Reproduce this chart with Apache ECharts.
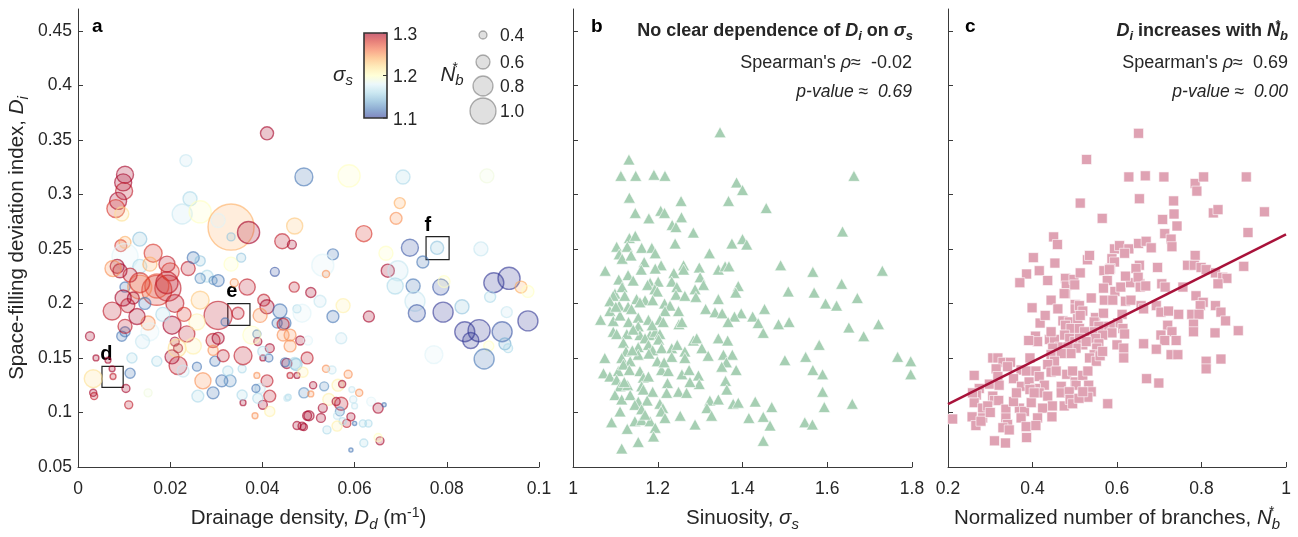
<!DOCTYPE html>
<html><head><meta charset="utf-8">
<script src="https://cdn.jsdelivr.net/npm/echarts@6/dist/echarts.min.js"></script>
<style>html,body{margin:0;padding:0;background:#fff}#c{width:1298px;height:537px}</style>
</head><body><div id="c"></div>
<script>
const FONT = "'Liberation Sans', Arial, Helvetica, sans-serif";

// ---------- DATA ----------
// Panel a: [drainage density Dd, Di, sinuosity sigma_s, normalized branches Nb*]
const panelA = [
[0.041,0.356,1.30,0.57],[0.0234,0.331,1.17,0.53],[0.049,0.316,1.12,0.73],[0.0102,0.318,1.30,0.70],
[0.0098,0.311,1.30,0.70],[0.0100,0.303,1.29,0.70],[0.0087,0.294,1.30,0.70],[0.0082,0.287,1.28,0.73],
[0.0095,0.282,1.22,0.60],[0.0243,0.296,1.16,0.60],[0.0226,0.282,1.17,0.80],[0.0265,0.284,1.20,0.87],
[0.0332,0.270,1.24,1.67],[0.0304,0.276,1.18,0.60],[0.0332,0.261,1.15,0.40],[0.037,0.265,1.30,0.87],
[0.0443,0.257,1.29,0.63],[0.0464,0.254,1.30,0.43],[0.047,0.271,1.23,0.67],[0.0134,0.259,1.15,0.60],
[0.0093,0.253,1.28,0.53],[0.0102,0.256,1.24,0.53],[0.0102,0.243,1.18,1.00],[0.0085,0.234,1.30,0.60],
[0.0091,0.230,1.30,0.60],[0.0076,0.232,1.25,0.67],[0.0134,0.234,1.16,0.60],[0.0163,0.246,1.28,0.73],
[0.0193,0.236,1.29,0.67],[0.0200,0.229,1.28,0.73],[0.0156,0.236,1.24,0.60],[0.0239,0.232,1.29,0.60],
[0.025,0.242,1.12,0.53],[0.0265,0.239,1.15,0.47],[0.028,0.225,1.16,0.53],[0.0265,0.223,1.13,0.47],
[0.0304,0.221,1.12,0.53],[0.0293,0.221,1.13,0.40],[0.0332,0.236,1.20,0.60],[0.0354,0.242,1.15,0.43],
[0.0339,0.219,1.25,0.40],[0.0427,0.229,1.11,0.43],[0.0367,0.215,1.29,0.67],[0.0469,0.215,1.29,0.47],
[0.0102,0.215,1.12,0.47],[0.0195,0.214,1.29,1.00],[0.0171,0.212,1.28,1.13],[0.0134,0.215,1.25,0.93],
[0.0171,0.216,1.27,0.93],[0.0134,0.219,1.28,0.80],[0.0193,0.219,1.29,0.87],
[0.0074,0.193,1.29,0.73],[0.0098,0.205,1.30,0.67],[0.0108,0.198,1.29,0.60],[0.0095,0.170,1.12,0.47],
[0.0102,0.174,1.12,0.47],[0.0102,0.179,1.29,0.60],[0.0026,0.170,1.30,0.43],[0.0039,0.150,1.30,0.33],
[0.0065,0.148,1.30,0.33],[0.0074,0.140,1.30,0.33],[0.0076,0.133,1.29,0.33],[0.0033,0.131,1.22,0.73],
[0.0033,0.118,1.30,0.37],[0.0035,0.115,1.29,0.37],[0.0113,0.136,1.12,0.47],[0.0104,0.122,1.30,0.40],
[0.011,0.107,1.29,0.40],[0.0117,0.150,1.16,0.47],[0.0152,0.118,1.19,0.40],[0.0171,0.147,1.16,0.47],
[0.021,0.200,1.29,0.73],[0.0204,0.180,1.30,0.73],[0.0236,0.172,1.29,0.67],[0.0152,0.182,1.25,0.60],
[0.021,0.165,1.30,0.43],[0.0217,0.159,1.30,0.43],[0.0204,0.151,1.30,0.60],[0.0215,0.159,1.22,0.73],
[0.0217,0.143,1.29,0.73],[0.025,0.161,1.21,0.67],[0.0228,0.138,1.17,0.53],[0.0258,0.142,1.12,0.43],
[0.0271,0.129,1.25,0.67],[0.026,0.115,1.16,0.53],[0.0293,0.118,1.12,0.53],[0.0312,0.129,1.12,0.53],
[0.033,0.129,1.13,0.53],[0.0297,0.147,1.12,0.47],[0.0325,0.138,1.16,0.47],[0.0356,0.140,1.16,0.40],
[0.0293,0.166,1.29,0.60],[0.0304,0.168,1.30,0.53],[0.0304,0.189,1.29,1.07],[0.0293,0.157,1.25,0.47],
[0.0315,0.152,1.29,0.53],[0.0358,0.152,1.29,0.73],[0.0347,0.191,1.29,0.53],[0.0319,0.183,1.12,0.40],
[0.0403,0.203,1.29,0.53],[0.041,0.197,1.30,0.60],[0.0395,0.189,1.25,0.60],[0.0438,0.193,1.12,0.60],
[0.0432,0.182,1.12,0.47],[0.0449,0.182,1.12,0.53],[0.0475,0.195,1.16,0.40],[0.046,0.171,1.25,0.53],
[0.0482,0.166,1.30,0.43],[0.0388,0.172,1.12,0.40],[0.039,0.165,1.30,0.40],[0.0377,0.171,1.20,0.73],
[0.0416,0.159,1.30,0.43],[0.0401,0.150,1.30,0.33],[0.0414,0.150,1.12,0.40],[0.0401,0.156,1.16,0.47],
[0.0453,0.145,1.30,0.47],[0.046,0.134,1.29,0.33],[0.0475,0.134,1.30,0.33],[0.047,0.145,1.16,0.53],
[0.0388,0.134,1.25,0.33],[0.041,0.129,1.29,0.53],[0.0416,0.115,1.29,0.53],[0.0401,0.107,1.30,0.43],
[0.039,0.113,1.16,0.47],[0.0395,0.122,1.17,0.47],[0.0386,0.122,1.12,0.40],[0.0416,0.101,1.21,0.47],
[0.0384,0.097,1.25,0.33],[0.0358,0.109,1.30,0.33],[0.0356,0.116,1.16,0.47],[0.0456,0.114,1.16,0.33],
[0.0497,0.097,1.30,0.43],[0.0475,0.088,1.30,0.40],[0.0486,0.0875,1.30,0.40],[0.049,0.0866,1.30,0.37],
[0.0156,0.174,1.18,0.73],[0.0258,0.183,1.21,0.67],
[0.0588,0.317,1.20,0.87],[0.0705,0.316,1.16,0.60],[0.0887,0.317,1.19,0.60],[0.0698,0.292,1.24,0.50],
[0.069,0.278,1.25,0.53],[0.062,0.264,1.28,0.67],[0.072,0.251,1.11,0.70],[0.0779,0.251,1.15,0.57],
[0.0748,0.238,1.12,0.53],[0.0874,0.250,1.17,0.60],[0.0668,0.246,1.20,0.60],[0.0553,0.245,1.12,0.50],
[0.0531,0.235,1.18,0.87],[0.0538,0.227,1.25,0.37],[0.0672,0.230,1.30,0.57],[0.0694,0.230,1.17,0.80],
[0.0688,0.216,1.16,0.67],[0.0727,0.216,1.12,0.60],[0.0787,0.215,1.11,0.67],[0.0794,0.220,1.20,0.53],
[0.0902,0.219,1.10,0.80],[0.0935,0.223,1.10,0.87],[0.0961,0.215,1.24,0.53],[0.0505,0.210,1.30,0.47],
[0.0976,0.211,1.20,0.53],
[0.0731,0.202,1.17,0.80],[0.0735,0.191,1.11,0.70],[0.0792,0.192,1.10,0.80],[0.0833,0.197,1.15,0.60],
[0.0894,0.206,1.16,0.50],[0.093,0.192,1.17,0.50],[0.0976,0.184,1.10,0.80],[0.0839,0.174,1.10,0.80],
[0.087,0.175,1.10,0.87],[0.0852,0.166,1.10,0.67],[0.092,0.174,1.11,0.80],[0.0926,0.163,1.14,0.53],
[0.0891,0.161,1.20,0.47],[0.0933,0.159,1.16,0.43],[0.0881,0.149,1.12,0.80],[0.0772,0.153,1.18,0.73],
[0.0631,0.188,1.30,0.50],[0.0553,0.188,1.12,0.53],[0.0486,0.191,1.18,0.73],[0.0575,0.198,1.21,0.60],
[0.0525,0.202,1.17,0.53],[0.0445,0.181,1.29,0.53],[0.0445,0.171,1.25,0.53],[0.046,0.161,1.25,0.53],
[0.0499,0.166,1.18,0.43],[0.0571,0.168,1.17,0.50],[0.0497,0.150,1.29,0.53],[0.0449,0.146,1.12,0.43],
[0.0473,0.144,1.15,0.53],[0.0488,0.137,1.21,0.47],[0.0538,0.140,1.25,0.37],[0.0551,0.139,1.17,0.40],
[0.0586,0.135,1.25,0.40],[0.051,0.125,1.30,0.37],[0.0534,0.124,1.13,0.43],[0.049,0.118,1.13,0.47],
[0.0505,0.117,1.25,0.33],[0.0564,0.125,1.21,0.53],[0.0573,0.126,1.30,0.37],[0.0594,0.121,1.17,0.33],
[0.061,0.118,1.25,0.37],[0.0453,0.113,1.17,0.33],[0.0544,0.112,1.21,0.53],[0.056,0.110,1.30,0.40],
[0.0571,0.108,1.29,0.57],[0.0597,0.112,1.17,0.37],[0.060,0.106,1.17,0.33],[0.0636,0.110,1.18,0.43],
[0.0651,0.104,1.30,0.47],[0.0664,0.107,1.12,0.27],[0.0531,0.104,1.30,0.43],[0.0568,0.101,1.13,0.43],
[0.0562,0.097,1.17,0.37],[0.0592,0.096,1.30,0.40],[0.0583,0.090,1.29,0.40],[0.0574,0.092,1.16,0.37],
[0.060,0.090,1.12,0.27],[0.0618,0.090,1.16,0.37],[0.063,0.090,1.16,0.37],[0.0501,0.097,1.30,0.47],
[0.0527,0.095,1.30,0.43],[0.054,0.084,1.16,0.40],[0.0562,0.0875,1.21,0.47],[0.062,0.072,1.16,0.40],
[0.0655,0.074,1.30,0.40],[0.0592,0.0655,1.12,0.27],[0.0651,0.077,1.20,0.40],
[0.0113,0.226,1.29,0.60],[0.0120,0.205,1.30,0.53],[0.0145,0.200,1.12,0.53],[0.0128,0.188,1.30,0.67],
[0.0184,0.190,1.16,0.60],[0.0140,0.165,1.17,0.60],[0.0265,0.203,1.23,0.73],[0.0230,0.190,1.28,0.60]
];

// Panel b: [sinuosity sigma_s, Di]
const panelB = [
[1.347,0.357],[1.132,0.332],[1.113,0.317],[1.148,0.317],[1.191,0.318],[1.217,0.317],[1.663,0.317],[1.386,0.311],
[1.400,0.304],[1.133,0.297],[1.255,0.294],[1.367,0.294],[1.456,0.2875],[1.147,0.283],[1.207,0.285],[1.216,0.283],
[1.179,0.278],[1.256,0.279],[1.234,0.272],[1.243,0.270],[1.284,0.265],[1.636,0.266],[1.133,0.260],[1.147,0.262],
[1.241,0.255],[1.375,0.255],[1.400,0.259],[1.410,0.254],[1.103,0.252],[1.128,0.252],[1.162,0.251],[1.186,0.251],
[1.109,0.245],[1.116,0.241],[1.137,0.244],[1.194,0.246],[1.322,0.246],[1.168,0.238],[1.161,0.231],[1.076,0.230],
[1.208,0.235],[1.194,0.232],[1.261,0.235],[1.261,0.231],[1.298,0.233],[1.300,0.224],[1.343,0.231],[1.359,0.234],
[1.368,0.234],[1.490,0.235],[1.566,0.229],[1.730,0.230],[1.130,0.226],[1.238,0.228],[1.108,0.222],[1.142,0.221],
[1.182,0.219],[1.201,0.220],[1.233,0.220],[1.308,0.217],[1.390,0.216],[1.384,0.210],[1.634,0.218],[1.508,0.211],
[1.569,0.210],[1.099,0.209],[1.095,0.207],[1.087,0.202],[1.116,0.215],[1.176,0.217],[1.193,0.213],[1.199,0.211],
[1.245,0.215],[1.243,0.208],[1.264,0.207],[1.288,0.213],[1.290,0.206],[1.671,0.205],[1.150,0.204],[1.170,0.203],
[1.188,0.203],[1.216,0.200],[1.229,0.198],[1.343,0.204],[1.087,0.193],[1.109,0.198],[1.130,0.197],[1.158,0.201],
[1.138,0.195],[1.596,0.200],[1.622,0.198],[1.217,0.193],[1.249,0.193],[1.313,0.195],[1.335,0.192],[1.352,0.191],
[1.452,0.195],[1.397,0.191],[1.381,0.188],[1.424,0.188],[1.437,0.182],[1.065,0.185],[1.095,0.184],[1.111,0.189],
[1.131,0.183],[1.154,0.187],[1.178,0.185],[1.205,0.185],[1.213,0.183],[1.250,0.181],[1.257,0.183],[1.366,0.183],
[1.485,0.181],[1.510,0.183],[1.651,0.178],[1.721,0.181],[1.095,0.174],[1.103,0.172],[1.127,0.172],[1.154,0.179],
[1.158,0.171],[1.182,0.171],[1.194,0.174],[1.205,0.172],[1.449,0.173],[1.686,0.170],[1.119,0.164],[1.125,0.156],
[1.154,0.160],[1.170,0.168],[1.178,0.162],[1.188,0.157],[1.202,0.167],[1.209,0.159],[1.233,0.159],[1.246,0.162],
[1.284,0.166],[1.292,0.168],[1.304,0.159],[1.343,0.168],[1.365,0.166],[1.581,0.162],[1.264,0.156],[1.264,0.150],
[1.075,0.150],[1.115,0.150],[1.135,0.147],[1.154,0.153],[1.179,0.154],[1.199,0.147],[1.209,0.139],[1.233,0.151],
[1.319,0.152],[1.355,0.153],[1.376,0.153],[1.362,0.146],[1.500,0.148],[1.549,0.151],[1.766,0.151],[1.797,0.147],
[1.797,0.135],[1.072,0.136],[1.087,0.133],[1.107,0.138],[1.119,0.144],[1.133,0.139],[1.158,0.138],[1.166,0.132],
[1.223,0.127],[1.225,0.138],[1.257,0.135],[1.274,0.139],[1.296,0.134],[1.351,0.142],[1.385,0.139],[1.566,0.139],
[1.589,0.135],[1.298,0.126],[1.276,0.128],[1.360,0.129],[1.363,0.121],[1.103,0.130],[1.111,0.124],[1.129,0.125],
[1.162,0.124],[1.166,0.121],[1.188,0.119],[1.221,0.118],[1.249,0.119],[1.268,0.118],[1.099,0.116],[1.115,0.112],
[1.135,0.116],[1.154,0.110],[1.175,0.111],[1.205,0.108],[1.323,0.111],[1.343,0.112],[1.378,0.108],[1.390,0.109],
[1.430,0.110],[1.589,0.119],[1.593,0.105],[1.659,0.108],[1.469,0.105],[1.111,0.101],[1.146,0.107],[1.162,0.103],
[1.212,0.104],[1.208,0.101],[1.316,0.104],[1.327,0.097],[1.091,0.091],[1.146,0.092],[1.162,0.093],[1.182,0.092],
[1.170,0.098],[1.217,0.095],[1.253,0.097],[1.415,0.095],[1.449,0.096],[1.547,0.091],[1.565,0.089],[1.465,0.088],
[1.288,0.089],[1.194,0.086],[1.190,0.078],[1.128,0.085],[1.154,0.073],[1.449,0.074],[1.115,0.067],
[1.122,0.207],[1.142,0.176],[1.187,0.180],[1.121,0.128],[1.178,0.133],[1.140,0.157],[1.101,0.197],[1.215,0.146]
];

// Panel c: [normalized number of branches Nb*, Di]
const panelC = [
[0.651,0.356],[0.528,0.332],[0.628,0.316],[0.667,0.317],[0.711,0.316],[0.906,0.316],[0.785,0.310],[0.805,0.316],
[0.789,0.303],[0.653,0.296],[0.513,0.292],[0.734,0.294],[0.735,0.282],[0.742,0.271],[0.708,0.277],[0.713,0.264],
[0.728,0.259],[0.730,0.252],[0.565,0.278],[0.828,0.283],[0.839,0.286],[0.949,0.284],[0.910,0.265],[0.450,0.261],
[0.459,0.254],[0.594,0.250],[0.606,0.253],[0.628,0.250],[0.618,0.246],[0.651,0.255],[0.669,0.257],[0.681,0.251],
[0.530,0.240],[0.535,0.244],[0.588,0.241],[0.594,0.238],[0.584,0.232],[0.402,0.242],[0.453,0.237],[0.653,0.235],
[0.645,0.232],[0.696,0.233],[0.785,0.244],[0.767,0.235],[0.783,0.235],[0.799,0.233],[0.811,0.231],[0.833,0.228],
[0.850,0.224],[0.860,0.223],[0.900,0.234],[0.386,0.227],[0.416,0.230],[0.370,0.219],[0.436,0.221],[0.478,0.223],
[0.480,0.216],[0.498,0.222],[0.478,0.209],[0.500,0.217],[0.513,0.228],[0.569,0.230],[0.577,0.221],[0.582,0.231],
[0.568,0.214],[0.570,0.203],[0.595,0.211],[0.590,0.203],[0.609,0.215],[0.632,0.219],[0.654,0.218],[0.650,0.224],
[0.655,0.215],[0.668,0.216],[0.706,0.218],[0.714,0.215],[0.839,0.218],[0.787,0.207],[0.804,0.201],[0.797,0.198],
[0.833,0.198],[0.846,0.192],[0.857,0.184],[0.887,0.175],[0.832,0.173],[0.444,0.203],[0.539,0.205],[0.475,0.209],
[0.501,0.199],[0.501,0.195],[0.511,0.198],[0.519,0.193],[0.399,0.196],[0.620,0.202],[0.633,0.203],[0.657,0.198],
[0.663,0.195],[0.693,0.198],[0.704,0.192],[0.722,0.193],[0.746,0.190],[0.777,0.190],[0.794,0.190],[0.781,0.181],
[0.781,0.174],[0.612,0.190],[0.549,0.187],[0.568,0.191],[0.546,0.183],[0.472,0.184],[0.487,0.183],[0.507,0.186],
[0.513,0.189],[0.418,0.182],[0.602,0.182],[0.584,0.179],[0.569,0.179],[0.557,0.179],[0.614,0.177],[0.618,0.172],
[0.588,0.173],[0.545,0.174],[0.566,0.171],[0.549,0.168],[0.557,0.163],[0.720,0.180],[0.730,0.174],[0.740,0.166],
[0.704,0.171],[0.713,0.166],[0.478,0.180],[0.491,0.177],[0.511,0.177],[0.523,0.174],[0.407,0.170],[0.412,0.165],
[0.391,0.166],[0.440,0.167],[0.452,0.167],[0.444,0.174],[0.476,0.171],[0.488,0.168],[0.500,0.165],[0.511,0.168],
[0.519,0.162],[0.527,0.165],[0.503,0.159],[0.464,0.160],[0.484,0.160],[0.491,0.154],[0.552,0.159],[0.546,0.153],
[0.535,0.150],[0.551,0.147],[0.560,0.152],[0.566,0.156],[0.448,0.159],[0.444,0.153],[0.468,0.154],[0.452,0.147],
[0.600,0.162],[0.616,0.159],[0.616,0.150],[0.663,0.163],[0.693,0.158],[0.728,0.153],[0.744,0.153],[0.811,0.147],
[0.811,0.140],[0.846,0.149],[0.670,0.131],[0.699,0.127],[0.578,0.108],[0.306,0.150],[0.318,0.150],[0.330,0.146],
[0.348,0.146],[0.314,0.140],[0.341,0.142],[0.373,0.139],[0.394,0.150],[0.386,0.138],[0.408,0.138],[0.262,0.134],
[0.274,0.122],[0.267,0.116],[0.298,0.126],[0.318,0.133],[0.321,0.125],[0.355,0.131],[0.374,0.124],[0.392,0.128],
[0.416,0.133],[0.436,0.144],[0.444,0.137],[0.456,0.138],[0.428,0.125],[0.407,0.122],[0.416,0.118],[0.436,0.115],
[0.447,0.106],[0.424,0.104],[0.468,0.124],[0.468,0.118],[0.475,0.106],[0.481,0.135],[0.495,0.138],[0.501,0.128],
[0.503,0.125],[0.519,0.134],[0.531,0.138],[0.533,0.125],[0.539,0.119],[0.531,0.114],[0.487,0.119],[0.489,0.112],
[0.495,0.108],[0.510,0.113],[0.519,0.119],[0.306,0.115],[0.310,0.111],[0.320,0.111],[0.262,0.109],[0.282,0.104],
[0.294,0.106],[0.337,0.103],[0.369,0.104],[0.381,0.101],[0.397,0.109],[0.257,0.096],[0.282,0.095],[0.266,0.088],
[0.278,0.092],[0.211,0.094],[0.337,0.095],[0.341,0.089],[0.373,0.095],[0.412,0.095],[0.446,0.096],[0.330,0.086],
[0.345,0.084],[0.385,0.087],[0.408,0.088],[0.310,0.074],[0.336,0.072],[0.386,0.077],[0.394,0.121],[0.404,0.118],
[0.258,0.118],[0.355,0.110],[0.300,0.100],[0.362,0.118],[0.430,0.189],[0.620,0.225],[0.756,0.215],[0.460,0.195]
];

// Linear fit of Di vs Nb* (panel c), end points
const fitNb = [0.2, 1.0];
const fitDi = [0.1076, 0.2633];

// Ticks
const yTicks = [0.05,0.1,0.15,0.2,0.25,0.3,0.35,0.4,0.45];
const colorbarTicks = [1.3, 1.2, 1.1];
const sizeLegendValues = [0.4, 0.6, 0.8, 1.0];

// Highlighted sub-areas in panel a: [label, Dd0, Dd1, Di0, Di1]
const boxes = [
  ['d', 0.0052, 0.0098, 0.1231, 0.1423],
  ['e', 0.0325, 0.0373, 0.1798, 0.1999],
  ['f', 0.0755, 0.0805, 0.2401, 0.2612]
];

// ---------- STYLE HELPERS ----------
const RDYLBU_R = ['#313695','#4575b4','#74add1','#abd9e9','#e0f3f8','#ffffbf','#fee090','#fdae61','#f46d43','#d73027','#a50026'];
function hex2rgb(h){return [parseInt(h.slice(1,3),16),parseInt(h.slice(3,5),16),parseInt(h.slice(5,7),16)];}
function cmap(v){
  let t=(v-1.1)/0.2; t=Math.max(0,Math.min(1,t));
  const p=t*10; const i=Math.min(9,Math.floor(p)); const f=p-i;
  const a=hex2rgb(RDYLBU_R[i]), b=hex2rgb(RDYLBU_R[i+1]);
  return a.map((c,k)=>Math.round(c+(b[k]-c)*f));
}
function rgba(c,a){return 'rgba('+c[0]+','+c[1]+','+c[2]+','+a+')';}
function bubbleDiam(nb){return 30*nb-4;}

const AX = '#3a3a3a', TXT = '#262626';
const NF = 20.5;
const richBase = {
  n:{fontFamily:FONT,fontSize:NF,color:TXT},
  i:{fontFamily:FONT,fontSize:NF,color:TXT,fontStyle:'italic'},
  sub:{fontFamily:FONT,fontSize:15,color:TXT,fontStyle:'italic',padding:[12,0,0,0]},
  sup:{fontFamily:FONT,fontSize:14,color:TXT,padding:[0,0,11,0]},
  supz:{fontFamily:FONT,fontSize:14,color:TXT,padding:[0,0,13,0],width:0}
};

function xAxisCfg(idx,min,max,interval,name,gap){
  return {
    gridIndex:idx,type:'value',min,max,interval,
    name,nameLocation:'middle',nameGap:gap,
    nameTextStyle:{fontFamily:FONT,fontSize:NF,color:TXT,rich:richBase},
    axisLine:{show:true,onZero:false,lineStyle:{color:AX,width:1}},
    axisTick:{show:true,inside:true,length:5,lineStyle:{color:AX,width:1}},
    axisLabel:{color:TXT,fontFamily:FONT,fontSize:17.5,margin:13,formatter:v=>String(+v.toFixed(3))},
    splitLine:{show:false}
  };
}
function yAxisCfg(idx,showLabel){
  const c = {
    gridIndex:idx,type:'value',min:0.05,max:0.47,
    axisLine:{show:true,onZero:false,lineStyle:{color:AX,width:1}},
    axisTick:{show:true,inside:true,length:5,customValues:yTicks,lineStyle:{color:AX,width:1}},
    axisLabel:{show:showLabel,customValues:yTicks,color:TXT,fontFamily:FONT,fontSize:17.5,margin:6,formatter:v=>String(+v.toFixed(3))},
    splitLine:{show:false}
  };
  if(showLabel){
    c.name='{n|Space-filling deviation index, }{i|D}{sub|i}';
    c.nameLocation='middle'; c.nameGap=47; c.nameRotate=90;
    c.nameTextStyle={fontFamily:FONT,fontSize:NF,color:TXT,rich:richBase};
  }
  return c;
}

const bubbleData = panelA.map(p=>{
  const c=cmap(p[2]);
  return {value:p,itemStyle:{color:rgba(c,0.28),borderColor:rgba(c,0.75),borderWidth:1.4}};
});

const markAreaData = boxes.map(b=>[
  {name:b[0],coord:[b[1],b[4]]},
  {coord:[b[2],b[3]]}
]);

// ---------- GRAPHIC (legends & annotations) ----------
const graphic = [];
function txt(x,y,text,opt){
  graphic.push({type:'text',x,y,silent:true,z:100,style:Object.assign({
    text,fontFamily:FONT,fontSize:17,fill:TXT,align:'left',textAlign:'left',verticalAlign:'middle',textVerticalAlign:'middle'
  },opt||{})});
}
// panel letters
txt(92,27,'a',{fontWeight:'bold',fontSize:19,fill:'#000'});
txt(591,27,'b',{fontWeight:'bold',fontSize:19,fill:'#000'});
txt(965,27,'c',{fontWeight:'bold',fontSize:19,fill:'#000'});

const richTitle = {
  b:{fontFamily:FONT,fontSize:18,fontWeight:'bold',color:'#000'},
  bi:{fontFamily:FONT,fontSize:18,fontWeight:'bold',fontStyle:'italic',color:'#000'},
  bsub:{fontFamily:FONT,fontSize:13,fontWeight:'bold',fontStyle:'italic',color:'#000',padding:[11,0,0,0]},
  bsupz:{fontFamily:FONT,fontSize:13,fontWeight:'bold',fontStyle:'italic',color:'#000',padding:[0,0,11,0],width:0},
  r:{fontFamily:FONT,fontSize:18,color:TXT},
  ri:{fontFamily:FONT,fontSize:18,fontStyle:'italic',color:TXT},
  pi:{fontFamily:FONT,fontSize:17.5,fontStyle:'italic',color:TXT}
};
function rtxt(x,y,text){
  graphic.push({type:'text',x,y,silent:true,z:100,style:{
    text,rich:richTitle,fontFamily:FONT,fontSize:17,fill:TXT,align:'right',textAlign:'right',verticalAlign:'middle',textVerticalAlign:'middle'}});
}
rtxt(913,31,'{b|No clear dependence of }{bi|D}{bsub|i}{b| on }{bi|σ}{bsub|s}');
rtxt(912,63,"{r|Spearman's }{ri|ρ}{r|≈  -0.02}");
rtxt(912,92,'{pi|p-value ≈  0.69}');
rtxt(1288,31,'{bi|D}{bsub|i}{b| increases with }{bi|N}{bsupz|*}{bsub|b}');
rtxt(1288,63,"{r|Spearman's }{ri|ρ}{r|≈  0.69}");
rtxt(1288,92,'{pi|p-value ≈  0.00}');

// colorbar
const cbX=364, cbY=33, cbW=23, cbH=85;
const stops=[];
for(let k=0;k<=20;k++){const v=1.3-0.2*k/20; stops.push({offset:k/20,color:rgba(cmap(v),0.62)});}
graphic.push({type:'rect',shape:{x:cbX,y:cbY,width:cbW,height:cbH},silent:true,z:90,
  style:{fill:{type:'linear',x:0,y:0,x2:0,y2:1,colorStops:stops},stroke:'#333',lineWidth:1.6}});
colorbarTicks.forEach(v=>{
  const y=cbY+(1.3-v)/0.2*cbH;
  graphic.push({type:'line',shape:{x1:cbX+cbW-4,y1:y,x2:cbX+cbW,y2:y},silent:true,z:91,style:{stroke:'#333',lineWidth:1}});
  txt(cbX+cbW+6,y+2,v.toFixed(1),{fontSize:17.5});
});
graphic.push({type:'text',x:343,y:75,silent:true,z:100,style:{text:'{i|σ}{sub|s}',rich:richBase,fontFamily:FONT,fontSize:NF,fill:TXT,align:'center',textAlign:'center',verticalAlign:'middle',textVerticalAlign:'middle'}});

// size legend
const slCenters=[35,62,86,111];
sizeLegendValues.forEach((v,k)=>{
  const r=bubbleDiam(v)/2;
  graphic.push({type:'circle',shape:{cx:483,cy:slCenters[k],r},silent:true,z:90,
    style:{fill:'rgba(0,0,0,0.12)',stroke:'rgba(0,0,0,0.3)',lineWidth:1.3}});
  txt(500,slCenters[k]+1,v.toFixed(1),{fontSize:17.5});
});
graphic.push({type:'text',x:452,y:75,silent:true,z:100,style:{text:'{i|N}{supz|*}{sub|b}',rich:richBase,fontFamily:FONT,fontSize:NF,fill:TXT,align:'center',textAlign:'center',verticalAlign:'middle',textVerticalAlign:'middle'}});

// ---------- CHART ----------
const chart = echarts.init(document.getElementById('c'),null,{renderer:'canvas'});
chart.setOption({
  animation:false,
  backgroundColor:'#fff',
  grid:[
    {left:78,top:9,width:461,height:460},
    {left:573,top:9,width:339,height:460},
    {left:948,top:9,width:338,height:460}
  ],
  xAxis:[
    xAxisCfg(0,0,0.1,0.02,'{n|Drainage density, }{i|D}{sub|d}{n| (m}{sup|-1}{n|)}',38),
    xAxisCfg(1,1,1.8,0.2,'{n|Sinuosity, }{i|σ}{sub|s}',38),
    xAxisCfg(2,0.2,1.0,0.2,'{n|Normalized number of branches, }{i|N}{supz|*}{sub|b}',38)
  ],
  yAxis:[yAxisCfg(0,true),yAxisCfg(1,false),yAxisCfg(2,false)],
  graphic,
  series:[
    {type:'scatter',xAxisIndex:0,yAxisIndex:0,data:bubbleData,symbol:'circle',
     symbolSize:v=>bubbleDiam(v[3]),
     markArea:{silent:true,data:markAreaData,
       itemStyle:{color:'rgba(0,0,0,0)',borderColor:'#222',borderWidth:1.2},
       label:{show:true,position:[-1,-1],align:'left',verticalAlign:'bottom',fontFamily:FONT,fontSize:20,fontWeight:'bold',color:'#000'}}},
    {type:'scatter',xAxisIndex:1,yAxisIndex:1,data:panelB,symbol:'triangle',symbolSize:[12,11],
     itemStyle:{color:'#a6cfb3',borderColor:'#ffffff',borderWidth:0.6,opacity:1}},
    {type:'scatter',xAxisIndex:2,yAxisIndex:2,data:panelC,symbol:'rect',symbolSize:10,
     itemStyle:{color:'#dfa2b3',borderColor:'#ffffff',borderWidth:0.6,opacity:1}},
    {type:'line',xAxisIndex:2,yAxisIndex:2,data:fitNb.map((x,i)=>[x,fitDi[i]]),showSymbol:false,symbol:'none',
     lineStyle:{color:'#a8123a',width:2.5},z:5}
  ]
});
</script></body></html>
